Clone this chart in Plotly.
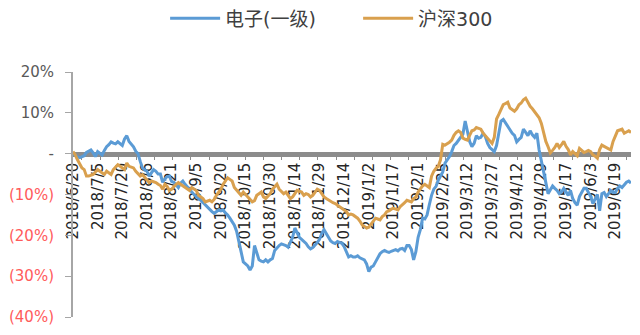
import plotly.graph_objects as go

# ---- data (values in %, one per trading day from 2018/6/20 to 2019/6/28) ----
tick_labels = ["2018/6/20", "2018/7/5", "2018/7/20", "2018/8/6", "2018/8/21", "2018/9/5",
               "2018/9/20", "2018/10/15", "2018/10/30", "2018/11/14", "2018/11/29",
               "2018/12/14", "2019/1/2", "2019/1/17", "2019/2/1", "2019/2/25", "2019/3/12",
               "2019/3/27", "2019/4/12", "2019/4/29", "2019/5/17", "2019/6/3", "2019/6/19"]
label_step = 11

electronics = [
    0, -0.5, -0.8, -1.0, -0.7, -0.5, 0.3, 0.6, 0.9, 0.2,
    -0.7, 0.5, 0.2, -0.3, 0.8, 1.7, 2.2, 2.9, 2.6, 2.4,
    2.9, 2.5, 2.0, 3.6, 4.4, 3.0, 2.4, 1.7, 0.6, 0.0,
    -1.9, -3.5, -4.0, -4.3, -5.5, -4.6, -3.9, -4.3, -5.0, -5.0,
    -7.0, -6.2, -5.6, -5.5, -6.8, -7.0, -7.6, -8.3, -7.2, -6.7,
    -7.5, -8.2, -8.8, -9.4, -10.0, -10.6, -11.0, -11.4, -12.0, -12.6,
    -13.0, -13.8, -14.2, -14.6, -14.2, -13.8, -14.0, -13.8, -14.5, -15.0,
    -15.8, -16.6, -17.5, -19.0, -22.0, -24.0, -26.5, -27.0, -27.5, -28.5,
    -27.5, -22.5, -24.5, -26.0, -26.3, -26.5, -26.0, -26.5, -26.0, -25.7,
    -23.7, -23.0, -22.5, -22.1, -22.3, -22.5, -22.9, -21.5, -20.5, -18.2,
    -19.5, -20.5, -21.0, -21.5, -22.0, -22.8, -23.3, -23.0, -22.5, -21.8,
    -21.0, -19.5, -18.6, -19.5, -20.5, -21.4, -21.8, -22.0, -21.5, -21.7,
    -22.0, -22.8, -24.0, -25.3, -25.0, -25.3, -25.3, -25.0, -25.5, -25.7,
    -26.0, -27.0, -28.9, -27.8, -27.5, -26.5, -25.5, -24.5, -24.0, -23.7,
    -24.0, -24.2, -23.9, -23.7, -23.5, -23.8, -23.3, -23.2, -23.7, -22.5,
    -22.5, -23.5, -26.0, -24.0, -20.5, -18.6, -15.8, -16.0, -15.0, -12.5,
    -10.2, -8.7, -8.0, -6.5, -5.5, -4.5, -2.3, -1.5, -0.7, 0.5,
    2.0, 2.5, 3.3, 3.8, 4.8, 8.0, 5.5, 3.0, 1.7, 2.5,
    4.4, 3.8, 4.0, 5.0, 4.2, 2.5, 1.5, 0.9, 0.5, 2.0,
    4.8, 8.0, 8.4, 7.5, 6.8, 5.6, 5.0, 4.5, 2.9, 3.5,
    4.0, 6.0, 5.2, 4.4, 5.6, 4.6, 4.0, 5.0, 0.9, -1.5,
    -4.7, -7.1, -9.8, -9.0, -7.9, -8.5, -9.0, -9.8, -9.4, -8.5,
    -9.5, -10.2, -9.0, -11.0, -12.0, -12.6, -10.5, -9.5, -8.5, -8.5,
    -9.5, -10.5, -12.2, -11.0, -10.0, -14.0, -9.8, -9.5, -10.5, -9.8,
    -9.0, -9.5, -9.5, -8.5, -7.9, -8.3, -7.5, -7.0, -6.7, -7.2,
]

hs300 = [
    0.5, -0.3, -1.5, -2.7, -3.5, -3.9, -5.5, -5.5, -5.3, -5.1,
    -4.5, -3.9, -4.3, -4.8, -5.1, -4.3, -4.8, -5.1, -3.9, -3.3,
    -2.7, -3.1, -3.6, -3.9, -2.3, -3.1, -3.3, -3.5, -4.3, -4.8,
    -5.5, -5.1, -5.8, -6.3, -7.1, -6.7, -6.9, -7.1, -7.5, -7.8,
    -8.7, -7.5, -8.0, -9.0, -8.7, -8.0, -7.5, -7.1, -7.5, -7.9,
    -8.3, -8.6, -9.0, -8.3, -8.7, -9.0, -10.2, -10.6, -11.0, -11.8,
    -11.6, -11.4, -11.8, -11.2, -10.2, -9.5, -8.7, -7.5, -6.7, -5.9,
    -6.3, -6.7, -8.3, -9.0, -9.6, -10.2, -9.4, -10.0, -10.6, -11.4,
    -11.8, -11.5, -10.2, -9.8, -9.4, -10.6, -11.0, -10.4, -9.8, -8.7,
    -8.2, -7.5, -8.7, -9.2, -9.8, -9.4, -10.2, -11.0, -10.6, -9.8,
    -9.0, -9.2, -9.4, -10.2, -9.8, -10.0, -10.6, -10.2, -9.5, -8.7,
    -9.0, -9.8, -10.6, -11.0, -11.4, -11.8, -12.0, -12.2, -12.6, -13.0,
    -13.4, -13.8, -14.2, -15.0, -14.8, -15.0, -15.4, -15.8, -16.5, -17.4,
    -17.8, -18.2, -18.0, -17.2, -16.6, -15.8, -16.0, -16.2, -15.4, -15.0,
    -14.2, -14.0, -13.6, -13.4, -13.6, -13.8, -13.0, -12.6, -12.0, -11.4,
    -11.6, -11.8, -11.0, -10.6, -9.4, -8.5, -7.9, -7.5, -7.8, -8.3,
    -5.5, -4.3, -3.6, -3.1, -1.5, 2.3, 2.1, 2.4, 2.8, 3.3,
    4.5, 5.2, 5.6, 5.2, 3.8, 3.5, 3.3, 4.5, 5.6, 5.8,
    6.4, 6.2, 6.0, 5.0, 4.4, 3.6, 3.0, 2.5, 4.0, 8.5,
    9.6, 11.0, 12.0, 12.3, 12.6, 11.2, 10.8, 10.4, 11.0, 12.0,
    12.4, 13.2, 13.6, 12.4, 11.6, 11.0, 10.2, 9.6, 8.8, 7.4,
    4.8, 3.0, 1.7, 0.2, 0.8, 1.5, 2.5, 1.5, 2.2, 3.0,
    1.8, 1.0, -0.3, 0.5, 0.0, -0.5, 1.3, 0.8, 0.3, 0.5,
    0.8, 0.5, -0.3, -0.6, -1.1, 1.0, 2.1, 1.8, 1.5, 1.2,
    0.9, 3.0, 4.5, 5.6, 5.8, 6.0, 5.0, 5.4, 5.6, 5.2,
]

series_names = ["电子(一级)", "沪深300"]
y_ticks = [-40, -30, -20, -10, 0, 10, 20]

# ---- styling ----
BLUE = "#5B9BD5"
GOLD = "#D9A04E"
NEG = "#FF5B5B"
POS = "#595959"


def fmt(v):
    if v == 0:
        return "-"
    if v < 0:
        return f'<span style="color:{NEG}">({abs(v)}%)</span>'
    return f"{v}%"


idx = list(range(len(electronics)))
tickvals = [i * label_step for i in range(len(tick_labels))]

fig = go.Figure()
fig.add_trace(go.Scatter(x=idx, y=electronics, mode="lines", name=series_names[0],
                         line=dict(color=BLUE, width=3)))
fig.add_trace(go.Scatter(x=idx, y=hs300, mode="lines", name=series_names[1],
                         line=dict(color=GOLD, width=3)))

ymin, ymax = y_ticks[0], y_ticks[-1]
fig.update_layout(
    width=640, height=335,
    margin=dict(l=67, r=9, t=72, b=9),
    paper_bgcolor="white", plot_bgcolor="white",
    font=dict(family="DejaVu Sans, Noto Sans CJK SC, sans-serif", color="#333333"),
    showlegend=True,
    legend=dict(orientation="h", x=0.258, xanchor="left", xref="container",
                y=0.945, yanchor="middle", yref="container",
                font=dict(size=19, color="#404040",
                          family="DejaVu Sans, Noto Sans CJK SC, sans-serif"),
                itemwidth=50, entrywidth=128, entrywidthmode="pixels",
                traceorder="normal"),
    xaxis=dict(
        range=[0, len(idx) - 1],
        anchor="free", position=(0 - ymin) / (ymax - ymin),
        showline=True, linecolor="#8C8C8C", linewidth=5,
        showgrid=False, zeroline=False,
        tickmode="array", tickvals=tickvals, ticktext=tick_labels,
        ticks="", tickangle=-90,
        tickfont=dict(size=15, color="#262626"),
        minor=dict(ticks="outside", tickmode="linear", tick0=4, dtick=8.1,
                   ticklen=3, tickwidth=1, tickcolor="#8C8C8C", showgrid=False),
        layer="below traces",
    ),
    yaxis=dict(
        range=[ymin, ymax],
        showline=True, linecolor="#A6A6A6", linewidth=2,
        showgrid=False, zeroline=False,
        tickmode="array", tickvals=y_ticks, ticktext=[fmt(v) for v in y_ticks],
        ticks="outside", ticklen=6, tickcolor="#A6A6A6", tickwidth=1,
        tickfont=dict(size=15, color=POS),
        ticklabelstandoff=8, ticklabeloverflow="allow",
    ),
)

fig.write_html("out.html")
